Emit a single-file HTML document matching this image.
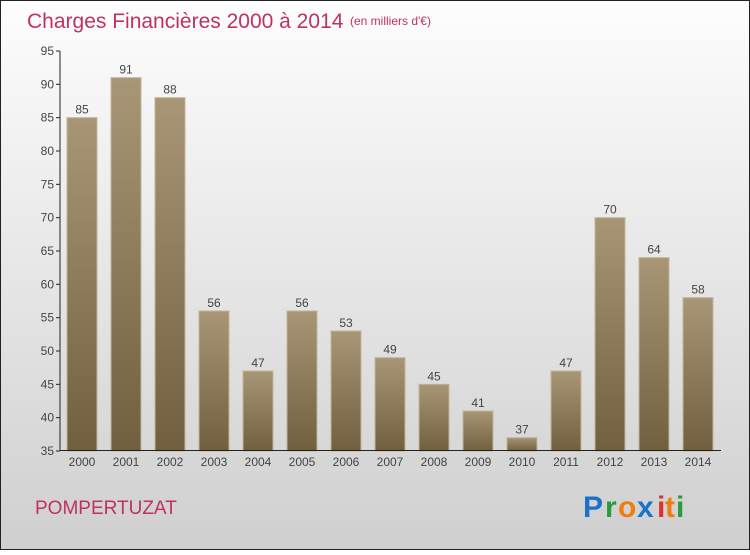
<!DOCTYPE html>
<html><head><meta charset="utf-8"><style>
body{margin:0;width:750px;height:550px;overflow:hidden;font-family:"Liberation Sans",sans-serif}
</style></head><body>
<svg id="c" width="750" height="550" xmlns="http://www.w3.org/2000/svg">
<defs>
<linearGradient id="bg" x1="0" y1="0" x2="0" y2="1"><stop offset="0" stop-color="#fdfdfd"/><stop offset="1" stop-color="#cfcfcf"/></linearGradient>
<linearGradient id="bar" x1="0" y1="0" x2="0" y2="1"><stop offset="0" stop-color="#a99676"/><stop offset="1" stop-color="#725f40"/></linearGradient>
</defs>
<rect x="0.5" y="0.5" width="749" height="549" fill="url(#bg)" stroke="#222"/>
<text x="27" y="28" font-size="21" fill="#c0325e">Charges Financières 2000 à 2014</text>
<text x="350" y="25" font-size="12" fill="#c0325e">(en milliers d'€)</text>
<text x="35" y="514" font-size="19" fill="#c0325e">POMPERTUZAT</text>
<g font-size="30" font-weight="bold" font-family="'Liberation Sans',sans-serif">
<text x="583" y="517" fill="#1a73c8">P</text><text x="605" y="517" fill="#2a9a3a">r</text><text x="618" y="517" fill="#f07d10">o</text><text x="637" y="517" fill="#1a73c8">x</text><text x="657" y="517" fill="#e03030">i</text><text x="665" y="517" fill="#f07d10">t</text><text x="676" y="517" fill="#2a9a3a">i</text>
</g>
<g id="plot"></g>
</svg>
<script>
const years=["2000","2001","2002","2003","2004","2005","2006","2007","2008","2009","2010","2011","2012","2013","2014"];
const values=[85,91,88,56,47,56,53,49,45,41,37,47,70,64,58];
const ticks=[35,40,45,50,55,60,65,70,75,80,85,90,95];
const NS="http://www.w3.org/2000/svg";
const g=document.getElementById('plot');
const y=v=>451-(v-35)*400/60;
const x=i=>82+i*44;
function mk(t,a){const e=document.createElementNS(NS,t);for(const k in a)e.setAttribute(k,a[k]);g.appendChild(e);return e;}
ticks.forEach(t=>{
 const l=mk('line',{x1:56,x2:60,y1:y(t),y2:y(t),stroke:'#222'});
 
 
 const tx=mk('text',{x:54,y:y(t)+4,'text-anchor':'end','font-size':12,fill:'#444'});tx.textContent=t;
 
 
});
values.forEach((v,i)=>{
 const b=mk('rect',{x:x(i)-15,y:y(v),width:30,height:y(35)-y(v),fill:'url(#bar)',stroke:'#c3b497','stroke-width':1});
 
 
 const lb=mk('text',{x:x(i),y:y(v)-4,'text-anchor':'middle','font-size':12,fill:'#444'});lb.textContent=v;
 
 
 const xl=mk('text',{x:x(i),y:466,'text-anchor':'middle','font-size':12,fill:'#444'});xl.textContent=years[i];
 
 
});
const ya=mk('line',{x1:60,x2:60,y1:y(95),y2:451,stroke:'#222'});


const xa=mk('line',{x1:60,x2:721,y1:450.5,y2:450.5,stroke:'#222'});


</script>
</body></html>
